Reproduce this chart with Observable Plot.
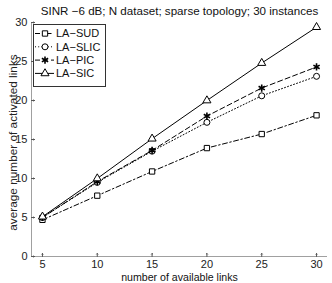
<!DOCTYPE html>
<html>
<head>
<meta charset="utf-8">
<script src="https://cdn.jsdelivr.net/npm/d3@7"></script>
<script src="https://cdn.jsdelivr.net/npm/@observablehq/plot@0.6"></script>
<style>
  html, body { margin: 0; padding: 0; background: #fff; }
  #chart svg { display: block; }
</style>
</head>
<body>
<div id="chart"></div>
<script>
const links = [5, 10, 15, 20, 25, 30];
const series = ["LA−SUD", "LA−SLIC", "LA−PIC", "LA−SIC"];
const sud  = [4.7, 7.8, 10.9, 13.9, 15.7, 18.1];
const slic = [5.0, 9.5, 13.5, 17.2, 20.6, 23.1];
const pic  = [5.0, 9.6, 13.6, 18.0, 21.6, 24.3];
const sic  = [5.1, 10.0, 15.1, 20.0, 24.8, 29.4];
const xTicks = [5, 10, 15, 20, 25, 30];
const yTicks = [0, 5, 10, 15, 20, 25, 30];
const title = "SINR −6 dB; N dataset; sparse topology; 30 instances";
const xLabel = "number of available links";
const yLabel = "average number of activated links";

const styles = {
  "LA−SUD":  {dash: "5,2.5,1.5,2.5", symbol: "square",   fill: "white"},
  "LA−SLIC": {dash: "1,2.2",         symbol: "circle",   fill: "white"},
  "LA−PIC":  {dash: "5,3",           symbol: "asterisk", fill: "none"},
  "LA−SIC":  {dash: null,            symbol: "triangle", fill: "white"}
};
const values = {"LA−SUD": sud, "LA−SLIC": slic, "LA−PIC": pic, "LA−SIC": sic};
const rows = series.flatMap(s => links.map((x, i) => ({series: s, x, y: values[s][i]})));

const font = "'Liberation Sans', Arial, sans-serif";
const axisColor = "#a0a0a0";

const marks = [
  Plot.ruleY([0], {stroke: axisColor}),
  Plot.ruleX([4], {stroke: axisColor}),
  Plot.vector(xTicks, {x: d => d, y: 0, length: 3, rotate: 0, anchor: "start", stroke: "#555", strokeWidth: 1}),
  Plot.vector(yTicks, {x: 4, y: d => d, length: 3, rotate: 90, anchor: "start", stroke: "#555", strokeWidth: 1}),
  Plot.axisX({ticks: xTicks, tickSize: 0, tickPadding: 4, label: null, fontSize: 11, color: "#222"}),
  Plot.axisY({ticks: yTicks, tickSize: 0, tickPadding: 4, label: null, fontSize: 11, color: "#222"})
];
for (const s of series) {
  const st = styles[s];
  const data = rows.filter(d => d.series === s);
  marks.push(Plot.line(data, {x: "x", y: "y", stroke: "black", strokeWidth: 1, strokeDasharray: st.dash}));
}
for (const s of series) {
  const st = styles[s];
  const data = rows.filter(d => d.series === s);
  marks.push(Plot.dot(data, {x: "x", y: "y", symbol: () => st.symbol, r: st.symbol === "asterisk" ? 3.4 : 3, stroke: "black", strokeWidth: st.symbol === "asterisk" ? 1.6 : 1, fill: st.fill}));
}
marks.push(Plot.text([title], {frameAnchor: "top", lineAnchor: "middle", dy: -11, text: d => d, fontSize: 11.6, fill: "#111"}));
marks.push(Plot.text([xLabel], {frameAnchor: "bottom", lineAnchor: "middle", dy: 21, text: d => d, fontSize: 10.6, fill: "#111"}));
marks.push(Plot.text([yLabel], {frameAnchor: "left", textAnchor: "middle", lineAnchor: "middle", dx: -18, dy: 3, rotate: -90, text: d => d, fontSize: 11.8, fill: "#222"}));

const chart = Plot.plot({
  width: 332,
  height: 283,
  marginLeft: 31,
  marginRight: 5,
  marginTop: 22,
  marginBottom: 27,
  style: {fontFamily: font, fontSize: "11px", background: "white", overflow: "visible"},
  x: {domain: [4, 31], axis: null},
  y: {domain: [0, 30], axis: null},
  symbol: {type: "identity"},
  marks
});

// legend
const svg = d3.select(chart);
const lg = svg.append("g").attr("font-family", font).attr("font-size", 11).attr("text-anchor", "start");
lg.append("rect").attr("x", 33.5).attr("y", 24.5).attr("width", 72).attr("height", 62)
  .attr("fill", "white").attr("stroke", "#333").attr("stroke-width", 1);
const symMap = {square: d3.symbolSquare, circle: d3.symbolCircle, asterisk: d3.symbolAsterisk, triangle: d3.symbolTriangle};
series.forEach((s, i) => {
  const st = styles[s];
  const y = 33.5 + i * 13.3;
  lg.append("line").attr("x1", 35).attr("x2", 54).attr("y1", y).attr("y2", y)
    .attr("stroke", "black").attr("stroke-width", 1).attr("stroke-dasharray", st.dash);
  const r = st.symbol === "asterisk" ? 3.4 : 3;
  lg.append("path").attr("transform", `translate(45,${y})`)
    .attr("d", d3.symbol(symMap[st.symbol], Math.PI * r * r)())
    .attr("fill", st.fill).attr("stroke", "black").attr("stroke-width", st.symbol === "asterisk" ? 1.6 : 1);
  lg.append("text").attr("x", 56).attr("y", y).attr("dy", "0.35em").attr("fill", "#111").attr("text-anchor", "start").text(s);
});

document.getElementById("chart").appendChild(chart);
</script>
</body>
</html>
